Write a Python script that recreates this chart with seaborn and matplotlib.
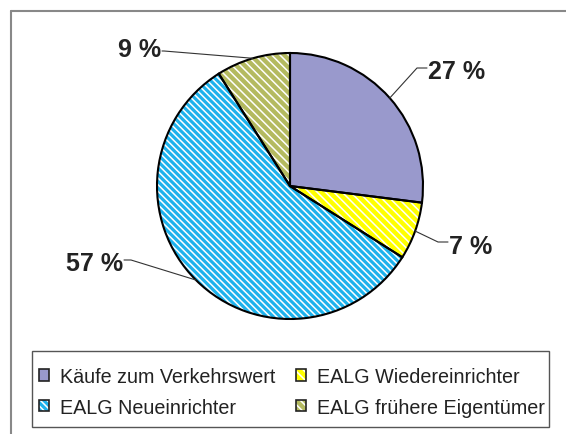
import numpy as np
import matplotlib
matplotlib.use('Agg')
import matplotlib.pyplot as plt
import seaborn as sns
from matplotlib.patches import Patch, Rectangle
from matplotlib.lines import Line2D

# data
labels = ['Käufe zum Verkehrswert', 'EALG Wiedereinrichter',
          'EALG Neueinrichter', 'EALG frühere Eigentümer']
shares = [27, 7, 57, 9]
colors = ['#9999CC', '#FFFF00', '#1EB2EC', '#B4BA60']
hatches = ['', '\\\\\\\\', '\\\\\\\\\\', '\\\\\\\\']
label_text = ['27 %', '7 %', '57 %', '9 %']

sns.set_theme(style='white')
plt.rcParams['font.family'] = ['Liberation Sans', 'DejaVu Sans']
plt.rcParams['hatch.linewidth'] = 1.1

W, H = 566, 435
fig = plt.figure(figsize=(W / 100, H / 100), dpi=100)
ax = fig.add_axes([0, 0, 1, 1])

cx, cy, r = 290, H - 187, 133

# hatched fill first, white hatch lines
wedges, _ = ax.pie(shares, colors=colors, startangle=90, counterclock=False,
                   center=(cx, cy), radius=r, frame=True,
                   wedgeprops=dict(edgecolor='white', linewidth=0))
for w, h in zip(wedges, hatches):
    w.set_hatch(h)
# black outline on top
outl, _ = ax.pie(shares, colors=['none'] * 4, startangle=90, counterclock=False,
                 center=(cx, cy), radius=r, frame=True,
                 wedgeprops=dict(edgecolor='black', linewidth=1.5, fill=False))

ax.set_xlim(0, W)
ax.set_ylim(0, H)
ax.set_aspect('equal')
ax.set_axis_off()

# labels with leader lines (text position in pixel coords)
text_pos = [(428, H - 72), (449, H - 247), (123, H - 264), (161, H - 50)]
elbow = [(417, H - 69), (438, H - 243), (131, H - 261), (164, H - 52)]
aligns = ['left', 'left', 'right', 'right']
for w, t, tp, el, ha in zip(wedges, label_text, text_pos, elbow, aligns):
    ang = np.deg2rad((w.theta1 + w.theta2) / 2)
    px, py = cx + r * np.cos(ang), cy + r * np.sin(ang)
    ax.plot([px, el[0], tp[0] + (-1 if ha == 'left' else 1)],
            [py, el[1], el[1]], color='#333333', lw=0.8)
    ax.text(tp[0], tp[1], t, ha=ha, va='center', fontsize=18,
            fontweight='bold', color='#222222')

# outer chart frame (top and left)
fig.add_artist(Line2D([11 / W, 1], [1 - 12 / H, 1 - 12 / H],
                      color='#888888', lw=1.5, transform=fig.transFigure))
fig.add_artist(Line2D([11 / W, 11 / W], [0, 1 - 12 / H],
                      color='#888888', lw=1.5, transform=fig.transFigure))

# legend box
fig.add_artist(Rectangle((32 / W, 1 - 428 / H), (549 - 32) / W, 76 / H,
                         transform=fig.transFigure, fill=False,
                         edgecolor='#555555', lw=1.0))

# legend: hatched patch + dark outline, filled row by row
handles = []
for c, h in zip(colors, hatches):
    handles.append((Patch(facecolor=c, edgecolor='white', hatch=h, lw=0),
                    Patch(facecolor='none', edgecolor='#222222', lw=1.2)))
order = [0, 2, 1, 3]
leg = fig.legend([handles[i] for i in order], [labels[i] for i in order],
                 ncol=2, loc='upper left',
                 bbox_to_anchor=(39 / W, 1 - 368 / H), borderaxespad=0,
                 fontsize=14.2, frameon=False,
                 handlelength=0.5, handleheight=0.5,
                 handletextpad=0.55, columnspacing=1.06, labelspacing=0.6,
                 borderpad=0)
for t in leg.get_texts():
    t.set_color('#222222')

fig.savefig('out.png', dpi=100)
